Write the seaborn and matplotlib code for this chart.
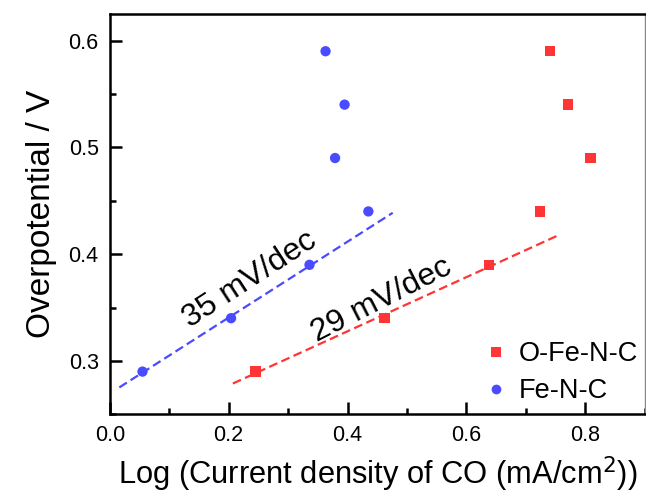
import numpy as np
import pandas as pd
import matplotlib
matplotlib.use("Agg")
import matplotlib.pyplot as plt
from matplotlib.ticker import MultipleLocator, FormatStrFormatter
import seaborn as sns

# data
ofenc_x = [0.245, 0.462, 0.638, 0.724, 0.809, 0.771, 0.741]
ofenc_y = [0.29, 0.34, 0.39, 0.44, 0.49, 0.54, 0.59]
fenc_x = [0.055, 0.204, 0.336, 0.435, 0.379, 0.395, 0.363]
fenc_y = [0.29, 0.34, 0.39, 0.44, 0.49, 0.54, 0.59]
labels = ["O-Fe-N-C", "Fe-N-C"]
tafel_labels = ["29 mV/dec", "35 mV/dec"]
# x range of each dashed tafel fit
ofenc_fit_range = [0.207, 0.757]
fenc_fit_range = [0.016, 0.476]

red = "#FF3535"
blue = "#4A4AFF"

sns.set_style("ticks", {"axes.edgecolor": "black", "text.color": "black",
                        "axes.labelcolor": "black", "xtick.color": "black",
                        "ytick.color": "black"})
plt.rcParams["font.family"] = ["Liberation Sans", "DejaVu Sans"]

df = pd.DataFrame({
    "x": ofenc_x + fenc_x,
    "y": ofenc_y + fenc_y,
    "sample": [labels[0]] * len(ofenc_x) + [labels[1]] * len(fenc_x),
})

fig = plt.figure(figsize=(6.46, 4.95), dpi=100)
ax = fig.add_axes([0.170, 0.163, 0.828, 0.809])

sns.scatterplot(data=df, x="x", y="y", hue="sample", style="sample",
                hue_order=labels, style_order=labels,
                palette={labels[0]: red, labels[1]: blue},
                markers={labels[0]: "s", labels[1]: "o"},
                s=55, linewidth=0, ax=ax)

# tafel fits on the three lowest points
for xs, ys, rng, c in [(ofenc_x, ofenc_y, ofenc_fit_range, red),
                       (fenc_x, fenc_y, fenc_fit_range, blue)]:
    k, b = np.polyfit(xs[:3], ys[:3], 1)
    xx = np.array(rng)
    ax.plot(xx, k * xx + b, color=c, lw=1.6, ls=(0, (4, 2)))

ax.text(0.457, 0.357, tafel_labels[0], fontsize=23, rotation=27,
        ha="center", va="center")
ax.text(0.236, 0.376, tafel_labels[1], fontsize=23, rotation=33,
        ha="center", va="center")

ax.set_xlim(0, 0.9)
ax.set_ylim(0.25, 0.625)
ax.xaxis.set_major_locator(MultipleLocator(0.2))
ax.xaxis.set_minor_locator(MultipleLocator(0.1))
ax.yaxis.set_major_locator(MultipleLocator(0.1))
ax.yaxis.set_minor_locator(MultipleLocator(0.05))
ax.xaxis.set_major_formatter(FormatStrFormatter("%.1f"))
ax.yaxis.set_major_formatter(FormatStrFormatter("%.1f"))
ax.tick_params(which="both", direction="in", color="black", width=1.8,
               top=False, right=False)
ax.tick_params(which="major", length=8.5, labelsize=15.5, pad=8)
ax.tick_params(which="minor", length=4.5)
for side in ["top", "left", "bottom"]:
    ax.spines[side].set_linewidth(1.8)
ax.spines["right"].set_linewidth(1.0)
ax.spines["right"].set_color("#888888")

ax.set_xlabel("Log (Current density of CO (mA/cm$^2$))", fontsize=22.2, labelpad=6)
ax.set_ylabel("Overpotential / V", fontsize=24, labelpad=8)

leg = ax.legend(loc="lower right", frameon=False, fontsize=19.5,
                handlelength=0.8, handletextpad=0.45, borderaxespad=0.0,
                labelspacing=0.4, bbox_to_anchor=(1.008, -0.002))
for h in leg.legend_handles:
    h.set_markersize(7)

fig.savefig("out.png", dpi=100)
